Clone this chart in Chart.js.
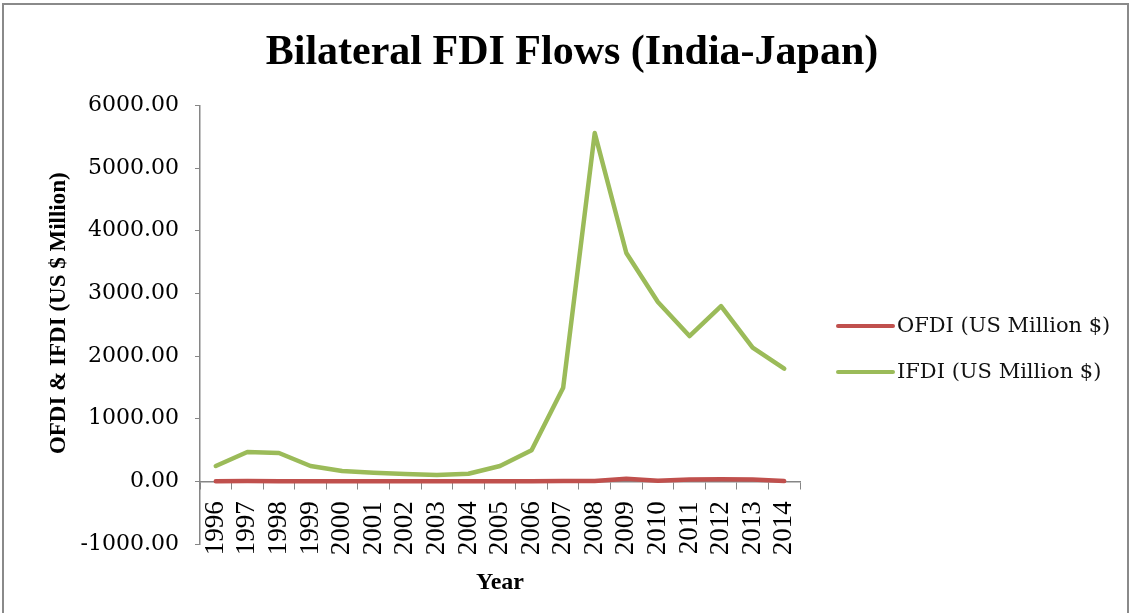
<!DOCTYPE html>
<html>
<head>
<meta charset="utf-8">
<script src="https://cdn.jsdelivr.net/npm/chart.js@4.4.1/dist/chart.umd.min.js"></script>
<style>
    body { margin: 0; background: #fff; }
    #wrap { position: relative; width: 1131px; height: 613px; overflow: hidden; }
    #frame { position: absolute; left: 2px; top: 3px; width: 1123px; height: 700px; border: 2px solid #8a8a8a; }
    canvas { position: absolute; left: 0; top: 0; }
</style>
</head>
<body>
<div id="wrap">
    <div id="frame"></div>
    <canvas id="chart" width="1131" height="613"></canvas>
</div>
<script>
const years = ['1996', '1997', '1998', '1999', '2000', '2001', '2002', '2003', '2004', '2005',
    '2006', '2007', '2008', '2009', '2010', '2011', '2012', '2013', '2014'];
const ofdi = [3, 4, 3, 2, 2, 2, 3, 2, 2, 3, 3, 4, 5, 40, 10, 30, 35, 30, 5];
const ifdi = [245, 468, 452, 245, 165, 138, 117, 101, 122, 245, 495, 1495, 5558, 3644, 2862, 2319, 2798, 2133, 1798];
const seriesNames = ['OFDI (US Million $)', 'IFDI (US Million $)'];
const seriesColors = ['#C0504D', '#9BBB59'];

const axisGrey = '#868686';

// legend drawn by hand so the plot area keeps its place
const sideLegend = {
    id: 'sideLegend',
    afterDraw(chart, args, opts) {
        const ctx = chart.ctx;
        const x0 = chart.chartArea.right + opts.offsetX;
        ctx.save();
        ctx.font = opts.font;
        ctx.textBaseline = 'middle';
        chart.data.datasets.forEach((ds, i) => {
            const y = opts.top + i * opts.gap;
            ctx.strokeStyle = ds.borderColor;
            ctx.lineWidth = 4;
            ctx.lineCap = 'round';
            ctx.beginPath();
            ctx.moveTo(x0, y);
            ctx.lineTo(x0 + opts.lineLength, y);
            ctx.stroke();
            ctx.fillStyle = '#111';
            ctx.fillText(ds.label, x0 + opts.lineLength + 4, y + 1);
        });
        ctx.restore();
    }
};

const ctx = document.getElementById('chart');
new Chart(ctx, {
    type: 'line',
    data: {
        labels: years,
        datasets: [
            {
                label: seriesNames[0],
                data: ofdi,
                borderColor: seriesColors[0],
                backgroundColor: seriesColors[0],
            },
            {
                label: seriesNames[1],
                data: ifdi,
                borderColor: seriesColors[1],
                backgroundColor: seriesColors[1],
            }
        ]
    },
    options: {
        responsive: false,
        animation: false,
        layout: {
            padding: { left: 41, right: 28, top: 0, bottom: 69 }
        },
        elements: {
            line: { borderWidth: 4.5, tension: 0, borderJoinStyle: 'round', borderCapStyle: 'round' },
            point: { radius: 0, hoverRadius: 0 }
        },
        scales: {
            x: {
                type: 'category',
                position: { y: 0 },
                offset: true,
                grid: {
                    offset: true,
                    drawOnChartArea: false,
                    drawTicks: true,
                    tickLength: 7,
                    color: axisGrey
                },
                border: { display: true, color: axisGrey, width: 1.5 },
                ticks: {
                    autoSkip: false,
                    minRotation: 90,
                    maxRotation: 90,
                    padding: 13,
                    color: '#000',
                    font: { family: '"Liberation Serif", "Times New Roman", serif', size: 27 }
                },
                title: {
                    display: true,
                    text: 'Year',
                    color: '#000',
                    padding: { top: 0, bottom: 4 },
                    font: { family: '"Liberation Serif", "Times New Roman", serif', size: 24, weight: 'bold' }
                }
            },
            y: {
                position: 'left',
                min: -1000,
                max: 6000,
                afterFit(scale) { scale.width = 159; },
                grid: {
                    drawOnChartArea: false,
                    drawTicks: true,
                    tickLength: 5,
                    color: axisGrey
                },
                border: { display: true, color: axisGrey, width: 1.5 },
                ticks: {
                    stepSize: 1000,
                    padding: 16,
                    color: '#000',
                    font: { family: '"DejaVu Serif", serif', size: 22 },
                    callback: (v) => v.toFixed(2)
                },
                title: {
                    display: true,
                    // leading spaces nudge the rotated title up a little, as in the original
                    text: '    OFDI & IFDI (US $ Million)',
                    color: '#000',
                    padding: { top: 4, bottom: 4 },
                    font: { family: '"Liberation Serif", "Times New Roman", serif', size: 23, weight: 'bold' }
                }
            },
            legendSpace: {
                type: 'linear',
                position: 'right',
                display: true,
                afterFit(scale) { scale.width = 303; },
                grid: { display: false },
                border: { display: false },
                ticks: { display: false }
            }
        },
        plugins: {
            legend: { display: false },
            tooltip: { enabled: false },
            title: {
                display: true,
                text: 'Bilateral FDI Flows (India-Japan)',
                color: '#000',
                padding: { top: 28, bottom: 27 },
                font: { family: '"Liberation Serif", "Times New Roman", serif', size: 42, weight: 'bold' }
            },
            sideLegend: {
                offsetX: 38,
                lineLength: 55,
                top: 326,
                gap: 46,
                font: '21px "DejaVu Serif", serif'
            }
        }
    },
    plugins: [sideLegend]
});
</script>
</body>
</html>
